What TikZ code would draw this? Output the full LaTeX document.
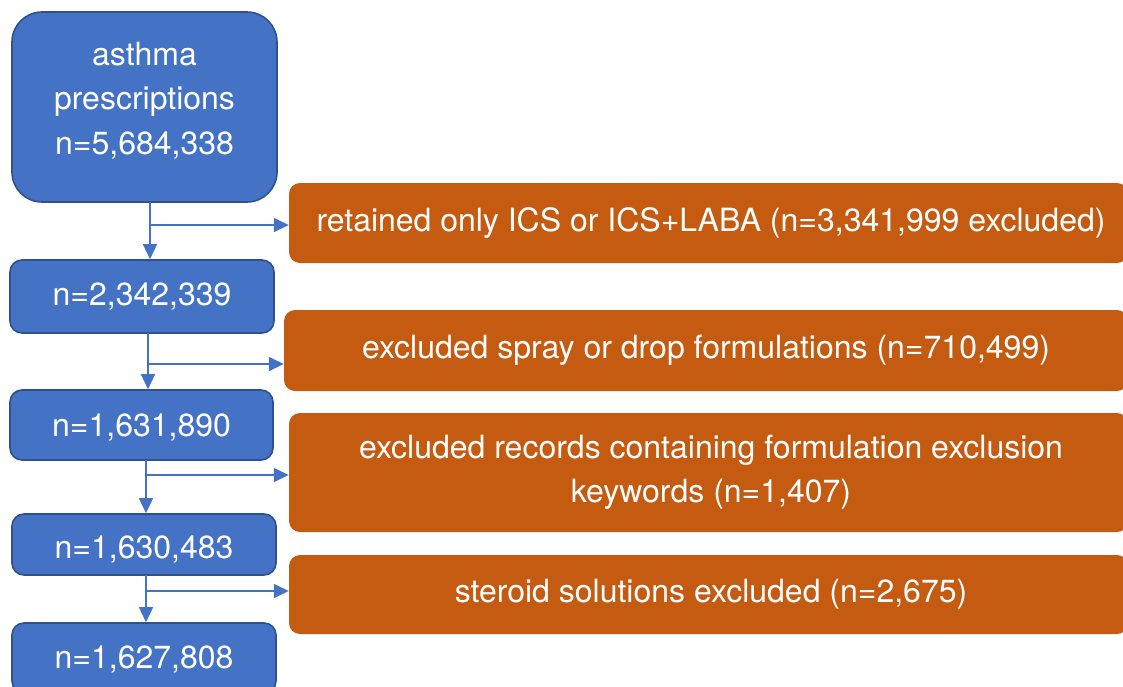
\documentclass[tikz,border=0pt]{standalone}
\usepackage{fontspec}
\setmainfont{TeX Gyre Heros}
\usetikzlibrary{arrows.meta}
\definecolor{stepblue}{HTML}{4472C4}
\definecolor{stepedge}{HTML}{2F528F}
\definecolor{exclorange}{HTML}{C55A11}
\tikzset{
  countbox/.style={draw=stepedge, line width=1.6pt, fill=stepblue,
    rounded corners=12pt, inner sep=0pt},
  exclbox/.style={fill=exclorange, rounded corners=11pt, inner sep=0pt},
  boxtext/.style={text=white, align=center, inner sep=0pt,
    font=\fontsize{32}{44.5}\selectfont},
  flow/.style={draw=stepblue, line width=1.5pt, -{Triangle[length=15pt,width=14pt]}},
}
\begin{document}
\begin{tikzpicture}[x=1pt,y=-1pt]
\useasboundingbox (0,0) rectangle (1123,686);
\clip (0,0) rectangle (1123,686);

% cohort counts
\node[countbox, rounded corners=30pt, minimum width=265pt, minimum height=190pt]
  (b1) at (144.5,107) {};
\node[countbox, minimum width=264pt, minimum height=73pt] (b2) at (142,296.5) {};
\node[countbox, minimum width=263pt, minimum height=70pt] (b3) at (141.5,425) {};
\node[countbox, minimum width=264pt, minimum height=61pt] (b4) at (144,544.5) {};
\node[countbox, minimum width=264pt, minimum height=70pt] (b5) at (144,658) {};

\node[boxtext] (b1t) at ([yshift=6.5pt]b1.center) {asthma\\prescriptions\\n=5,684,338};
\node[boxtext] (b2t) at (b2.center) {n=2,342,339};
\node[boxtext] (b3t) at ([yshift=-2.5pt]b3.center) {n=1,631,890};
\node[boxtext] (b4t) at ([yshift=-4.5pt]b4.center) {n=1,630,483};
\node[boxtext] (b5t) at ([yshift=-1pt]b5.center) {n=1,627,808};

% exclusion steps
\node[exclbox, minimum width=839pt, minimum height=80pt] (o1) at (708.5,223) {};
\node[exclbox, minimum width=844pt, minimum height=81pt] (o2) at (706,350.5) {};
\node[exclbox, minimum width=839pt, minimum height=119pt] (o3) at (708.5,472.5) {};
\node[exclbox, minimum width=839pt, minimum height=79pt] (o4) at (708.5,594.5) {};

\node[boxtext] (o1t) at (711,223) {retained only ICS or ICS+LABA (n=3,341,999 excluded)};
\node[boxtext] (o2t) at (706,350.5) {excluded spray or drop formulations (n=710,499)};
\node[boxtext] (o3t) at (711,472.5) {excluded records containing formulation exclusion\\keywords (n=1,407)};
\node[boxtext] (o4t) at (711,594.5) {steroid solutions excluded (n=2,675)};

% branch points on the vertical flow lines
\coordinate (s1) at (150,202);
\coordinate (j1) at (150,225);
\coordinate (s2) at (148,333);
\coordinate (j2) at (148,364);
\coordinate (s3) at (146,460);
\coordinate (j3) at (146,475);
\coordinate (s4) at (146,575);
\coordinate (j4) at (146,591);

\draw[flow] (s1) -- (s1 |- b2.north);
\draw[flow] (j1) -- (j1 -| o1.west);
\draw[flow] (s2) -- (s2 |- b3.north);
\draw[flow] (j2) -- (j2 -| o2.west);
\draw[flow] (s3) -- (s3 |- b4.north);
\draw[flow] (j3) -- (j3 -| o3.west);
\draw[flow] (s4) -- (s4 |- b5.north);
\draw[flow] (j4) -- (j4 -| o4.west);
\end{tikzpicture}
\end{document}
